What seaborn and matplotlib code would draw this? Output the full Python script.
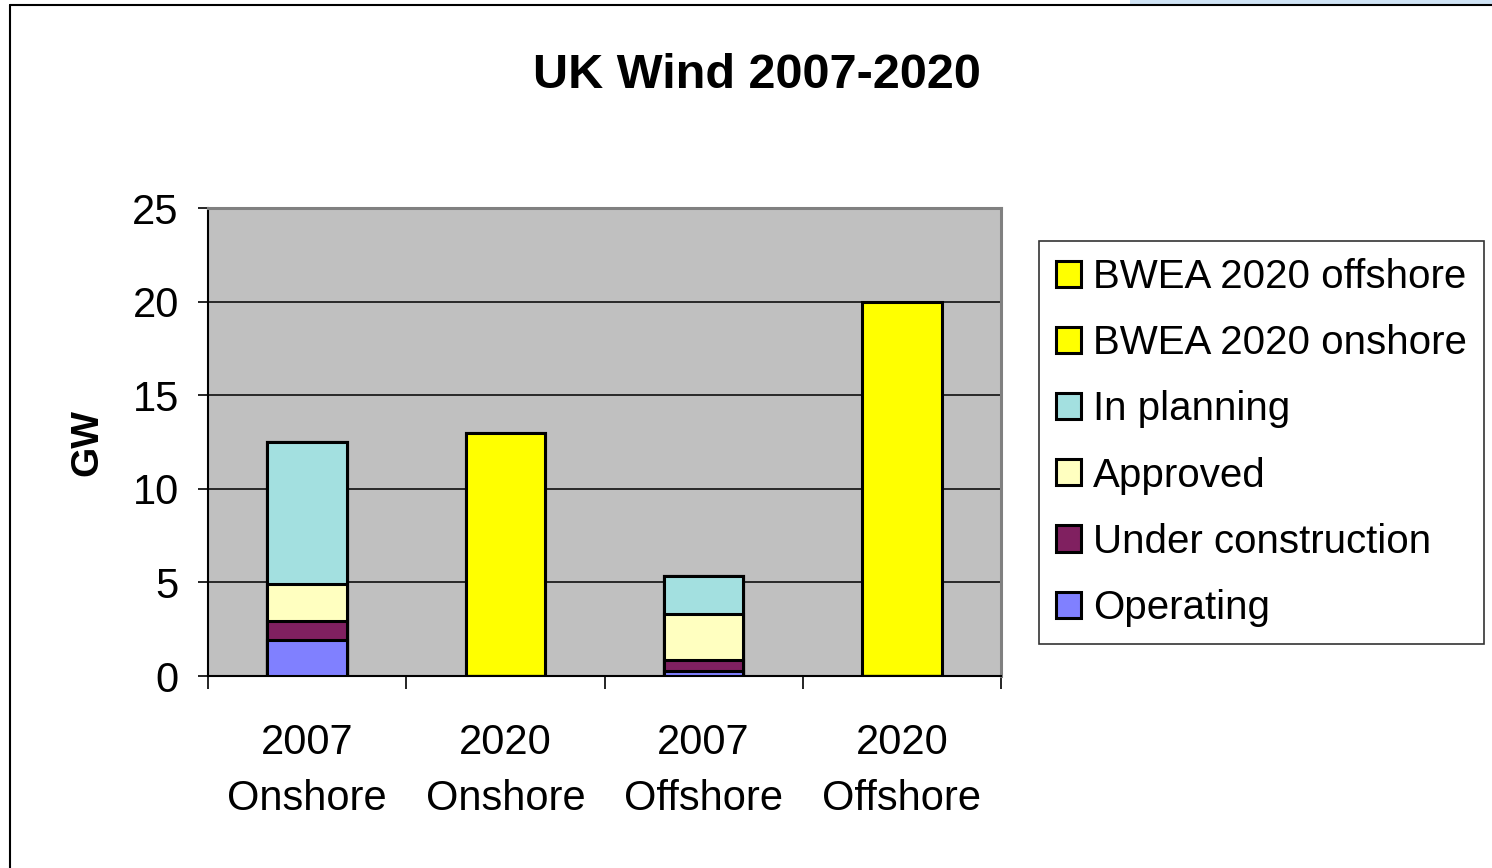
import matplotlib
matplotlib.use("Agg")
import matplotlib.pyplot as plt
from matplotlib.patches import Patch, Rectangle
from matplotlib.lines import Line2D
import seaborn as sns
import pandas as pd
import numpy as np

categories = ["2007\nOnshore", "2020\nOnshore", "2007\nOffshore", "2020\nOffshore"]
series_names = ["Operating", "Under construction", "Approved", "In planning",
                "BWEA 2020 onshore", "BWEA 2020 offshore"]
operating = [1.92, 0.0, 0.27, 0.0]
under_construction = [1.03, 0.0, 0.58, 0.0]
approved = [1.95, 0.0, 2.45, 0.0]
in_planning = [7.6, 0.0, 2.06, 0.0]
bwea_onshore = [0.0, 13.0, 0.0, 0.0]
bwea_offshore = [0.0, 0.0, 0.0, 20.0]
series_values = [operating, under_construction, approved, in_planning, bwea_onshore, bwea_offshore]
colors = ["#8080FF", "#802060", "#FFFFC0", "#A3E0E0", "#FFFF00", "#FFFF00"]
yticks = [0, 5, 10, 15, 20, 25]

sns.set_style("white")
plt.rcParams["font.family"] = ["Liberation Sans", "DejaVu Sans"]
plt.rcParams["text.color"] = "black"
plt.rcParams["xtick.color"] = "black"
plt.rcParams["ytick.color"] = "black"
plt.rcParams["axes.labelcolor"] = "black"

fig = plt.figure(figsize=(14.92, 8.68), dpi=100)
ax = fig.add_axes([208/1492, 1-676/868, (1001-208)/1492, (676-208)/868])
ax.set_facecolor("#C0C0C0")

# cumulative stacks
cum = np.cumsum(np.array(series_values), axis=0)
rows = []
for i, name in enumerate(series_names):
    for j, c in enumerate(categories):
        rows.append({"category": c, "series": name, "top": cum[i, j]})
df = pd.DataFrame(rows)

# draw from top layer down so lower layers overlay
for i in reversed(range(len(series_names))):
    sub = df[df["series"] == series_names[i]]
    sns.barplot(data=sub, x="category", y="top", order=categories, color=colors[i],
                saturation=1, width=0.40, edgecolor="black", linewidth=2.2,
                errorbar=None, ax=ax, zorder=3)

ax.set_ylim(0, 25)
ax.set_xlim(-0.5, 3.5)
ax.set_yticks(yticks)
ax.set_yticklabels([str(t) for t in yticks], fontsize=30)
ax.tick_params(axis="y", length=7, width=1.2, pad=14, direction="out", left=True, color="black")
ax.set_xticks(range(4))
ax.set_xticklabels(categories, fontsize=30, linespacing=1.5)
ax.tick_params(axis="x", which="major", length=0, pad=34)
ax.set_xticks([-0.5, 0.5, 1.5, 2.5, 3.5], minor=True)
ax.tick_params(axis="x", which="minor", length=9, width=1.2, direction="out", bottom=True, color="black")
ax.set_xlabel("")
ax.set_ylabel("GW", fontsize=28, fontweight="bold", color="black")
ax.yaxis.set_label_coords(-0.13, 0.5)

for y in yticks[1:-1]:
    ax.axhline(y, color="black", lw=1.1, zorder=1)
for s in ["top", "right"]:
    ax.spines[s].set_color("#808080")
    ax.spines[s].set_linewidth(2.2)
    ax.spines[s].set_visible(True)
for s in ["left", "bottom"]:
    ax.spines[s].set_color("black")
    ax.spines[s].set_linewidth(1.5)
    ax.spines[s].set_visible(True)

fig.text(757/1492, 1-88/868, "UK Wind 2007-2020", ha="center", va="baseline",
         fontsize=35, fontweight="bold", color="black")

handles = [Patch(facecolor=colors[i], edgecolor="black", linewidth=2.2, label=series_names[i])
           for i in reversed(range(len(series_names)))]
leg = fig.legend(handles=handles, loc="upper left", bbox_to_anchor=(1039/1492, 1-241/868),
                 fontsize=29, frameon=True, fancybox=False, borderpad=0.42, labelspacing=0.7,
                 handlelength=0.62, handleheight=0.62, handletextpad=0.3, borderaxespad=0)
leg.get_frame().set_edgecolor("black")
leg.get_frame().set_linewidth(1.2)
for t in leg.get_texts():
    t.set_color("black")

# chart frame
fig.add_artist(Line2D([10/1492, 10/1492], [0, 1-5/868], color="black", lw=1.5, transform=fig.transFigure))
fig.add_artist(Line2D([10/1492, 1], [1-5/868, 1-5/868], color="black", lw=1.5, transform=fig.transFigure))
fig.add_artist(Rectangle((1130/1492, 1-4/868), 1-1130/1492, 4/868, facecolor="#CFE3F5",
                         edgecolor="none", transform=fig.transFigure))

fig.savefig("out.png", dpi=100, facecolor="white")
